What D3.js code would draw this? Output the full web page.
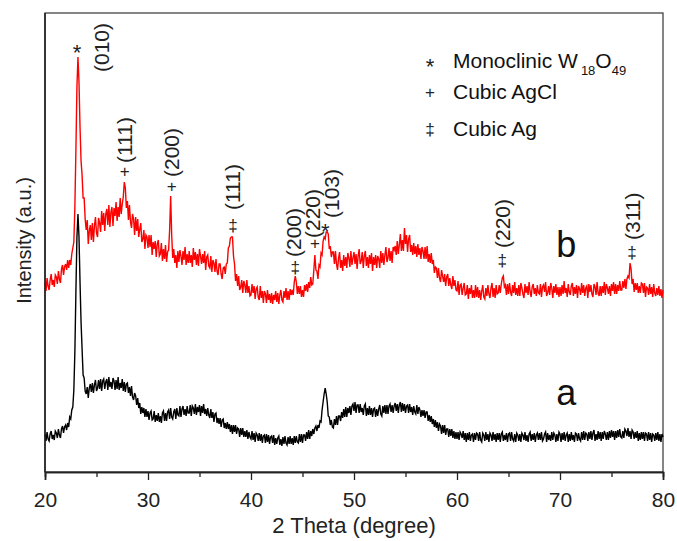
<!DOCTYPE html>
<html>
<head>
<meta charset="utf-8">
<script src="https://cdn.jsdelivr.net/npm/d3@7"></script>
<style>
  body { margin: 0; background: #fff; }
  svg text { font-family: "Liberation Sans", Arial, sans-serif; }
</style>
</head>
<body>
<div id="chart"></div>
<script>
// XRD patterns: sample a (black) and sample b (red)
// scan grid 20 - 80 degree, step 0.1 (601 points)
const twoTheta = d3.range(601).map(i => +(20 + i * 0.1).toFixed(1));

// intensity of sample b (red), one row = 2 degree
const intensityB = [
  189,181,194,186,182,192,198,187,192,185,197,195,188,201,193,189,203,207,197,205,
  208,202,212,204,212,207,218,224,230,265,322,385,415,390,345,311,297,274,274,253,
  242,252,228,241,247,232,249,230,246,255,239,235,254,249,240,261,247,259,241,258,
  263,247,267,245,260,265,246,264,256,270,251,265,255,274,258,268,275,290,284,264,
  271,252,267,250,244,258,253,237,255,241,253,235,243,249,230,233,242,223,237,235,
  224,237,225,237,217,230,223,231,215,228,232,216,218,229,211,223,213,227,210,220,
  222,242,276,237,214,223,209,217,204,221,210,222,216,207,221,212,225,207,218,209,
  221,209,217,205,224,212,220,207,218,206,223,216,208,218,209,221,202,215,217,206,
  204,216,200,212,209,200,213,201,197,208,208,198,193,204,205,198,208,209,224,226,
  234,235,235,216,208,191,198,186,196,182,185,192,179,191,187,179,192,179,186,176,
  177,188,179,186,173,183,185,175,172,186,174,181,169,181,178,169,182,172,178,169,
  179,168,177,172,181,170,179,168,177,182,172,170,181,174,184,172,181,172,183,177,
  182,177,190,196,190,178,186,178,186,175,182,175,187,181,188,180,190,184,195,187,
  188,202,217,202,201,193,207,205,219,217,231,235,233,240,240,238,223,226,215,220,
  220,208,221,208,202,214,220,204,212,201,217,206,215,204,219,214,205,221,207,214,
  220,208,218,203,216,223,208,211,220,204,216,221,206,215,204,217,208,219,201,215,
  207,217,204,216,213,204,221,209,219,207,217,225,210,214,224,211,221,209,225,222,
  226,217,231,218,227,238,221,232,221,244,228,237,220,233,237,220,227,217,229,218,
  226,215,228,217,224,213,225,221,213,225,213,226,210,218,209,219,208,212,199,205,
  204,194,204,194,190,202,196,190,198,186,195,198,186,194,187,183,196,186,192,182,
  181,191,177,187,188,177,184,189,177,178,187,173,184,178,187,174,182,174,187,175,
  185,174,182,172,181,187,175,173,184,176,187,178,174,184,189,175,184,174,187,178,
  179,187,179,188,194,196,185,187,177,188,178,189,180,176,187,179,190,177,184,176,
  187,176,189,184,178,174,188,179,186,177,190,180,175,185,188,178,184,176,187,179,
  178,188,175,185,187,180,190,176,179,186,177,189,184,174,186,179,188,177,185,175,
  185,176,187,178,191,179,184,175,188,180,177,186,189,176,185,178,187,174,186,183,
  177,189,179,187,176,184,186,174,188,180,187,178,175,188,185,177,190,179,176,186,
  176,186,179,190,177,188,184,178,186,176,188,181,190,178,188,178,187,181,191,182,
  182,191,184,193,183,193,196,194,209,203,188,193,180,189,182,189,179,186,179,189,
  188,179,189,175,185,184,177,188,178,185,175,188,179,176,184,177,186,176,183,174,
  182
];

// intensity of sample a (black)
const intensityA = [
  38,31,40,33,31,38,41,33,37,32,41,39,34,43,37,34,43,46,39,45,
  47,42,49,45,55,53,62,65,82,120,180,235,258,235,190,150,123,97,94,81,
  78,85,74,84,88,80,89,79,87,92,81,84,92,83,93,81,91,93,83,90,
  93,82,95,85,90,83,94,91,82,92,83,95,82,89,84,93,81,90,80,88,
  89,79,85,76,86,75,72,79,76,67,74,64,69,58,65,59,64,55,63,55,
  61,52,59,61,52,53,61,50,57,51,59,50,56,49,59,61,51,59,51,60,
  62,53,64,55,53,60,63,53,64,57,56,66,55,63,66,57,63,56,66,59,
  59,67,56,66,64,58,68,57,65,60,67,56,66,59,68,58,63,56,64,57,
  54,63,54,60,50,58,59,49,54,48,54,45,52,53,44,49,43,50,43,48,
  40,47,38,47,40,47,38,44,43,35,44,37,44,35,41,35,42,33,40,35,
  33,41,32,39,30,39,37,31,39,31,38,29,36,37,29,38,30,37,28,35,
  36,29,37,27,34,28,34,36,27,33,26,35,28,36,29,27,35,28,36,28,
  34,27,36,29,36,30,29,38,30,38,29,37,37,31,40,33,42,33,41,36,
  43,38,44,46,41,47,44,51,50,62,70,78,84,78,70,56,55,47,52,45,
  44,53,47,56,47,56,56,51,60,54,63,55,65,55,64,59,66,57,66,68,
  61,70,59,67,67,59,68,60,64,57,66,68,56,64,57,66,57,64,55,63,
  64,55,63,56,63,67,58,56,66,59,67,58,67,58,66,68,60,67,59,66,
  69,61,68,59,67,70,60,69,61,68,59,66,67,59,68,60,65,57,66,60,
  58,67,58,65,62,55,62,56,62,54,60,60,51,57,50,56,48,53,45,52,
  44,50,41,48,46,38,47,39,47,37,43,43,35,43,36,43,34,41,33,40,
  33,40,32,40,38,34,41,32,39,30,39,32,40,31,37,38,30,39,32,39,
  38,31,40,32,30,39,37,31,40,32,38,30,39,37,31,40,32,38,30,39,
  32,39,30,38,40,31,37,32,39,30,38,39,31,40,33,31,38,30,39,37,
  31,38,30,39,37,32,40,31,37,30,38,40,31,38,32,39,30,37,39,32,
  39,32,40,31,33,38,40,30,39,32,37,31,40,32,39,37,30,38,31,40,
  38,30,39,32,40,31,37,39,30,38,31,40,32,37,30,39,38,31,39,33,
  31,40,32,41,32,39,38,31,40,33,41,32,39,42,31,38,32,41,33,40,
  31,40,33,41,38,32,40,32,41,34,42,35,41,32,41,34,42,35,43,35,
  34,41,34,43,41,36,44,35,41,33,42,40,33,40,34,41,31,39,32,40,
  33,40,31,39,38,31,40,32,39,30,38,37,31,39,32,40,31,38,30,38,
  35
];

// peak labels (symbol + hkl)
const peakSymbols = ['*', '+', '+', '\u2021', '\u2021', '+', '*', '\u2021', '\u2021'];
const peakHkl     = ['(010)', '(111)', '(200)', '(111)', '(200)', '(220)', '(103)', '(220)', '(311)'];
const symbolAngle = [23.1, 27.75, 32.3, 38.25, 44.3, 46.2, 47.2, 64.4, 77.0];
const symbolLevel = [425, 301, 286, 247, 205, 229, 246, 212, 220];
const hklAngle    = [25.5, 27.75, 32.3, 38.25, 44.1, 46.0, 47.8, 64.45, 77.1];
const hklLevel    = [400, 309, 295, 262, 215, 234, 254, 224, 232];

// sample names
const sampleNames = ['a', 'b'];
const sampleAngle = [70.6, 70.6];
const sampleLevel = [67, 215];

const majorTicks = [20, 30, 40, 50, 60, 70, 80];
const minorTicks = [25, 35, 45, 55, 65, 75];

// legend
const legendSymbols = ['*', '+', '\u2021'];

const width = 677, height = 541;
const margin = { top: 13, right: 14, bottom: 69, left: 45 };

const svg = d3.select('#chart').append('svg')
  .attr('width', width)
  .attr('height', height);

const x = d3.scaleLinear().domain([20, 80]).range([margin.left, width - margin.right]);
const y = d3.scaleLinear().domain([0, 459]).range([height - margin.bottom, margin.top]);

// frame
svg.append('rect')
  .attr('x', margin.left).attr('y', margin.top)
  .attr('width', width - margin.left - margin.right)
  .attr('height', height - margin.top - margin.bottom)
  .attr('fill', 'none').attr('stroke', '#444').attr('stroke-width', 1.3);

// lines
const line = d3.line().x((d, i) => x(twoTheta[i])).y(d => y(d));

svg.append('path').datum(intensityA)
  .attr('d', line).attr('fill', 'none')
  .attr('stroke', '#000').attr('stroke-width', 1.4);

svg.append('path').datum(intensityB)
  .attr('d', line).attr('fill', 'none')
  .attr('stroke', '#ff0000').attr('stroke-width', 1.4);

// x axis
const axisY = height - margin.bottom;
const gMajor = svg.append('g').attr('transform', `translate(0,${axisY})`)
  .call(d3.axisBottom(x).tickValues(majorTicks).tickSize(8).tickPadding(12).tickFormat(d3.format('d')));
const gMinor = svg.append('g').attr('transform', `translate(0,${axisY})`)
  .call(d3.axisBottom(x).tickValues(minorTicks).tickSize(5).tickFormat(''));

[gMajor, gMinor].forEach(g => {
  g.select('.domain').attr('stroke', '#222').attr('stroke-width', 1.6);
  g.selectAll('.tick line').attr('stroke', '#222').attr('stroke-width', 1.3);
});
gMajor.selectAll('.tick text')
  .attr('font-size', 21).attr('fill', '#222')
  .style('font-family', '"Liberation Sans", Arial, sans-serif');

// left axis line (no ticks)
svg.append('line')
  .attr('x1', margin.left).attr('x2', margin.left)
  .attr('y1', margin.top).attr('y2', axisY)
  .attr('stroke', '#222').attr('stroke-width', 1.6);

// axis titles
svg.append('text')
  .attr('x', (margin.left + width - margin.right) / 2).attr('y', 533)
  .attr('text-anchor', 'middle').attr('font-size', 22).attr('fill', '#222')
  .text('2 Theta (degree)');

svg.append('text')
  .attr('transform', `translate(31,${(margin.top + axisY) / 2 - 2}) rotate(-90)`)
  .attr('text-anchor', 'middle').attr('font-size', 20).attr('fill', '#222')
  .text('Intensity (a.u.)');

// peak symbols
svg.selectAll('.sym')
  .data(peakSymbols)
  .enter().append('text')
  .attr('class', 'sym')
  .attr('x', (d, i) => x(symbolAngle[i]))
  .attr('y', (d, i) => y(symbolLevel[i]))
  .attr('dy', d => d === '*' ? '0.6em' : '0.35em')
  .attr('text-anchor', 'middle')
  .attr('font-size', d => d === '*' ? 22 : 17).attr('fill', '#222')
  .text(d => d);

// hkl labels, rotated
svg.selectAll('.hkl')
  .data(peakHkl)
  .enter().append('text')
  .attr('class', 'hkl')
  .attr('transform', (d, i) => `translate(${x(hklAngle[i])},${y(hklLevel[i])}) rotate(-90)`)
  .attr('dy', '0.35em')
  .attr('font-size', 21).attr('fill', '#222')
  .text(d => d);

// sample names
svg.selectAll('.sample')
  .data(sampleNames)
  .enter().append('text')
  .attr('class', 'sample')
  .attr('x', (d, i) => x(sampleAngle[i]))
  .attr('y', (d, i) => y(sampleLevel[i]))
  .attr('text-anchor', 'middle')
  .attr('font-size', 36).attr('fill', '#111')
  .text(d => d);

// legend
const legendY = [68, 99, 136];
svg.selectAll('.legsym')
  .data(legendSymbols)
  .enter().append('text')
  .attr('class', 'legsym')
  .attr('x', 430)
  .attr('y', (d, i) => legendY[i] - 7)
  .attr('dy', d => d === '*' ? '0.6em' : '0.35em')
  .attr('text-anchor', 'middle')
  .attr('font-size', d => d === '*' ? 22 : 17).attr('fill', '#222')
  .text(d => d);

const leg1 = svg.append('text').attr('x', 453).attr('y', legendY[0])
  .attr('font-size', 21).attr('fill', '#111');
leg1.append('tspan').text('Monoclinic W');
leg1.append('tspan').attr('dx', 3).attr('dy', 7).attr('font-size', 13).text('18');
leg1.append('tspan').attr('dy', -7).text('O');
leg1.append('tspan').attr('dy', 7).attr('font-size', 13).text('49');

svg.append('text').attr('x', 453).attr('y', legendY[1])
  .attr('font-size', 21).attr('fill', '#111').text('Cubic AgCl');
svg.append('text').attr('x', 453).attr('y', legendY[2])
  .attr('font-size', 21).attr('fill', '#111').text('Cubic Ag');
</script>
</body>
</html>
